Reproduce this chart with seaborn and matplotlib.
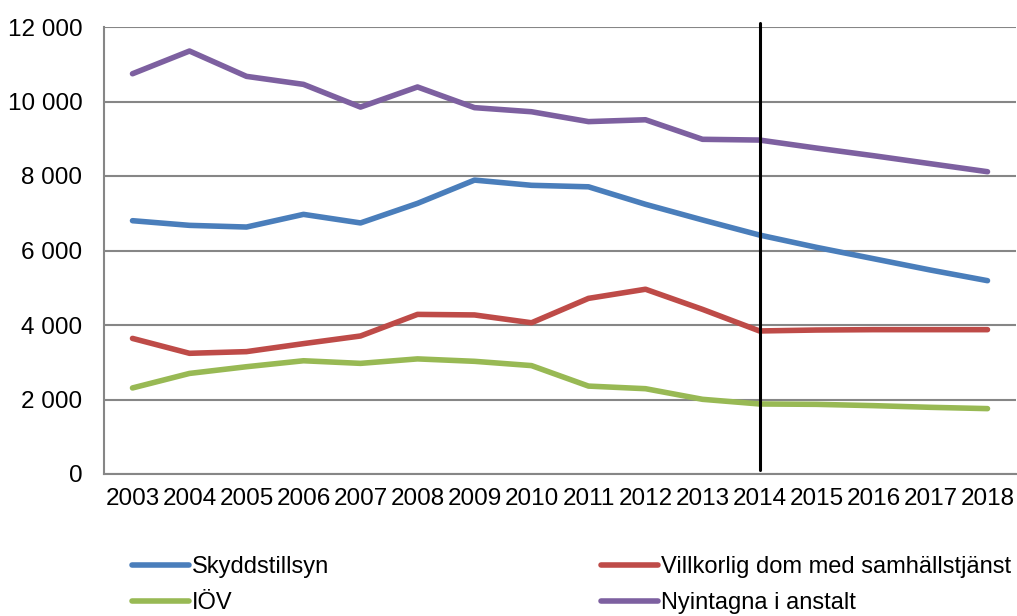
import numpy as np
import pandas as pd
import matplotlib
matplotlib.use("Agg")
import matplotlib.pyplot as plt
from matplotlib.ticker import FuncFormatter, MultipleLocator
import seaborn as sns

# ----------------------------------
# Data
# ----------------------------------

years = ["2003", "2004", "2005", "2006", "2007", "2008", "2009", "2010",
         "2011", "2012", "2013", "2014", "2015", "2016", "2017", "2018"]

skyddstillsyn = [6800, 6675, 6630, 6970, 6740, 7265, 7890, 7750,
                 7710, 7240, 6820, 6415, 6085, 5780, 5475, 5190]

villkorlig = [3640, 3240, 3285, 3500, 3705, 4285, 4270, 4060,
              4715, 4960, 4420, 3840, 3865, 3875, 3875, 3875]

iov = [2310, 2700, 2880, 3040, 2970, 3090, 3025, 2910,
       2360, 2290, 2005, 1880, 1870, 1835, 1790, 1755]

nyintagna = [10745, 11355, 10675, 10460, 9850, 10390, 9835, 9725,
             9460, 9510, 8985, 8965, 8750, 8545, 8330, 8115]

series_names = ["Skyddstillsyn", "IÖV",
                "Villkorlig dom med samhällstjänst", "Nyintagna i anstalt"]
series_values = [skyddstillsyn, iov, villkorlig, nyintagna]
series_colors = ["#4A7EBB", "#98B954", "#BE4B48", "#7D60A0"]

forecast_year = "2014"

# ----------------------------------
# Long-form table
# ----------------------------------

rows = []
for name, vals in zip(series_names, series_values):
    for i, v in enumerate(vals):
        rows.append({"pos": i, "year": years[i], "serie": name, "value": v})
df = pd.DataFrame(rows)

# ----------------------------------
# Plot
# ----------------------------------

sns.set_style("white")
plt.rcParams["font.family"] = ["Liberation Sans", "DejaVu Sans"]
plt.rcParams["text.color"] = "black"
plt.rcParams["xtick.labelcolor"] = "black"
plt.rcParams["ytick.labelcolor"] = "black"

fig = plt.figure(figsize=(10.17, 6.16), dpi=100)
ax = fig.add_axes([104 / 1017, 1 - 474 / 616, 912 / 1017, 447 / 616])

grid_color = "#868686"
lw = 4.0

sns.lineplot(
    data=df,
    x="pos",
    y="value",
    hue="serie",
    hue_order=series_names,
    palette=series_colors,
    linewidth=lw,
    ax=ax,
    legend=False,
    zorder=3,
)

ax.set_xlim(-0.5, len(years) - 0.5)
ax.set_ylim(0, 12000)

ax.yaxis.set_major_locator(MultipleLocator(2000))
ax.yaxis.set_major_formatter(
    FuncFormatter(lambda v, p: f"{int(v):,}".replace(",", " "))
)
ax.grid(axis="y", color=grid_color, linewidth=1.5, zorder=0)
ax.set_axisbelow(True)

ax.set_xticks(range(len(years)))
ax.set_xticklabels(years)
ax.set_xticks(np.arange(-0.5, len(years), 1.0), minor=True)
ax.tick_params(axis="x", which="major", length=0, pad=10, labelsize=17.5,
               labelcolor="black")
ax.tick_params(axis="x", which="minor", length=4.5, width=1.5,
               color=grid_color, direction="out")
ax.tick_params(axis="y", which="major", length=4.5, width=1.5,
               color=grid_color, direction="out", pad=11, labelsize=17.5,
               labelcolor="black")

for side in ["top", "right"]:
    ax.spines[side].set_visible(False)
for side in ["left", "bottom"]:
    ax.spines[side].set_color(grid_color)
    ax.spines[side].set_linewidth(1.5)

ax.set_xlabel("")
ax.set_ylabel("")

# forecast divider
ax.axvline(years.index(forecast_year), ymin=0.009, ymax=1.01,
           color="black", linewidth=2.2, clip_on=False, zorder=4)

# ----------------------------------
# Legend
# ----------------------------------

handles = [plt.Line2D([], [], color=c, linewidth=lw) for c in series_colors]
fig.legend(
    handles,
    series_names,
    loc="upper left",
    bbox_to_anchor=(132 / 1017, 1 - 556 / 616),
    ncol=2,
    frameon=False,
    fontsize=17,
    handlelength=2.4,
    handletextpad=0.12,
    columnspacing=11.55,
    labelspacing=0.6,
    borderpad=0,
    borderaxespad=0,
)

plt.savefig("out.png", dpi=100)
plt.close()
